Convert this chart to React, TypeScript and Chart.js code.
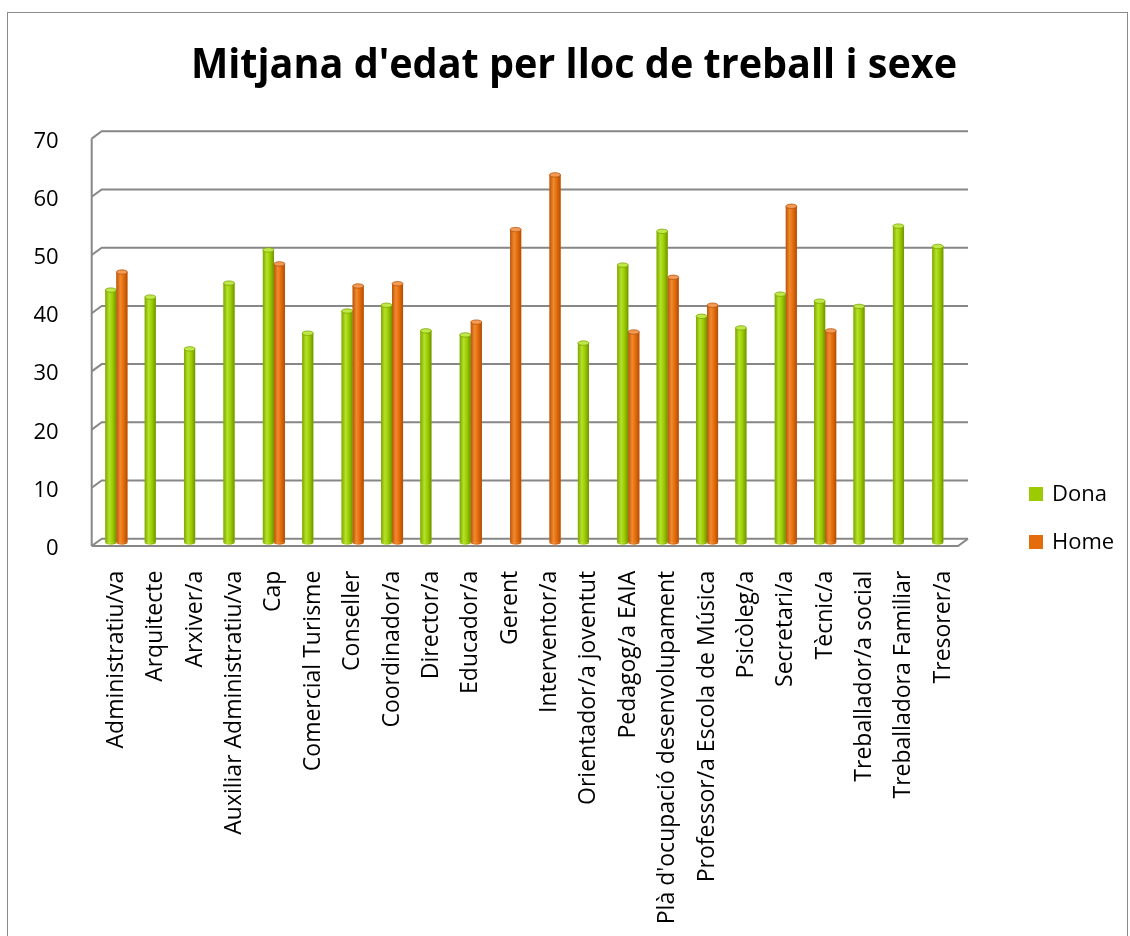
import React, { useEffect, useRef } from 'react';
import { Chart, registerables } from 'chart.js';

Chart.register(...registerables);

const TITLE = "Mitjana d'edat per lloc de treball i sexe";

const categories = [
  'Administratiu/va',
  'Arquitecte',
  'Arxiver/a',
  'Auxiliar Administratiu/va',
  'Cap',
  'Comercial Turisme',
  'Conseller',
  'Coordinador/a',
  'Director/a',
  'Educador/a',
  'Gerent',
  'Interventor/a',
  'Orientador/a joventut',
  'Pedagog/a EAIA',
  "Plà d'ocupació desenvolupament",
  'Professor/a Escola de Música',
  'Psicòleg/a',
  'Secretari/a',
  'Tècnic/a',
  'Treballador/a social',
  'Treballadora Familiar',
  'Tresorer/a',
];

const dona = [43.4, 42.2, 33.3, 44.6, 50.3, 36.0, 39.8, 40.8, 36.4, 35.7, null, null, 34.3, 47.7, 53.5, 38.9, 36.9, 42.7, 41.5, 40.6, 54.4, 50.9];
const home = [46.5, null, null, null, 47.9, null, 44.1, 44.5, null, 37.9, 53.8, 63.2, null, 36.2, 45.6, 40.8, null, 57.8, 36.4, null, null, null];

const seriesNames = ['Dona', 'Home'];
const seriesColors = ['#9BCB00', '#E46C0A'];
const yMin = 0;
const yMax = 70;
const yStep = 10;

// cylinder shading palettes (left edge, highlight, body, right edge, top, top outline)
const shading = [
  ['#7DA600', '#B4E22A', '#9CCB02', '#6F9300', '#BFE84A', '#7EA400'],
  ['#B9560A', '#F08A30', '#E46C0A', '#B04E06', '#F39A55', '#B9560A'],
];

const GRID = '#878787';
const DX = 5;
const DY_BACK = 4;
const DY_FRONT = 3.3;

const wallPlugin = {
  id: 'walls',
  beforeDatasetsDraw(chart: any) {
    const { ctx, chartArea } = chart;
    const ys = chart.scales.y;
    const { left, right, bottom, top } = chartArea;
    ctx.save();
    ctx.strokeStyle = GRID;
    ctx.lineWidth = 2;
    ctx.lineCap = 'butt';
    ys.ticks.forEach((t: any) => {
      const py = ys.getPixelForValue(t.value);
      ctx.beginPath();
      ctx.moveTo(left - DX, py + DY_FRONT);
      ctx.lineTo(left + DX, py - DY_BACK);
      ctx.lineTo(right + DX, py - DY_BACK);
      ctx.stroke();
    });
    // front vertical axis
    ctx.beginPath();
    ctx.moveTo(left - DX, top + DY_FRONT);
    ctx.lineTo(left - DX, bottom + DY_FRONT);
    ctx.stroke();
    // floor front edge
    ctx.beginPath();
    ctx.moveTo(left - DX, bottom + DY_FRONT);
    ctx.lineTo(right - DX, bottom + DY_FRONT);
    ctx.lineTo(right + DX, bottom - DY_BACK);
    ctx.stroke();
    ctx.restore();
  },
};

const cylinderPlugin = {
  id: 'cylinders',
  afterDatasetsDraw(chart: any) {
    const ctx = chart.ctx;
    chart.data.datasets.forEach((ds: any, di: number) => {
      const meta = chart.getDatasetMeta(di);
      if (meta.hidden) return;
      const pal = shading[di];
      meta.data.forEach((bar: any, i: number) => {
        const v = ds.data[i];
        if (v == null) return;
        const { x, y, base, width } = bar.getProps(['x', 'y', 'base', 'width'], true);
        const l = x - width / 2;
        const r = x + width / 2;
        const g = ctx.createLinearGradient(l, 0, r, 0);
        g.addColorStop(0, pal[0]);
        g.addColorStop(0.35, pal[1]);
        g.addColorStop(0.65, pal[2]);
        g.addColorStop(1, pal[3]);
        ctx.save();
        ctx.fillStyle = g;
        ctx.fillRect(l, y, width, base - y);
        ctx.beginPath();
        ctx.ellipse(x, base, width / 2, 2, 0, 0, Math.PI);
        ctx.fill();
        ctx.beginPath();
        ctx.ellipse(x, y, width / 2, 2.2, 0, 0, Math.PI * 2);
        ctx.fillStyle = pal[4];
        ctx.fill();
        ctx.lineWidth = 0.8;
        ctx.strokeStyle = pal[5];
        ctx.stroke();
        ctx.restore();
      });
    });
  },
};

const decorPlugin = {
  id: 'decor',
  afterDraw(chart: any) {
    const ctx = chart.ctx;
    ctx.save();
    // title
    ctx.font = "bold 41px 'Open Sans'";
    ctx.fillStyle = '#000';
    ctx.textBaseline = 'alphabetic';
    ctx.textAlign = 'center';
    const w = ctx.measureText(TITLE).width;
    const target = 766;
    const sx = w > target ? target / w : 1;
    ctx.translate(574, 78);
    ctx.scale(sx, 1);
    ctx.fillText(TITLE, 0, 0);
    ctx.restore();

    // legend
    ctx.save();
    ctx.font = "22px 'Open Sans'";
    ctx.textBaseline = 'middle';
    ctx.textAlign = 'left';
    chart.data.datasets.forEach((ds: any, i: number) => {
      const cy = 494 + i * 48;
      ctx.fillStyle = ds.backgroundColor;
      ctx.fillRect(1029, cy - 7, 14, 14);
      ctx.fillStyle = '#000';
      ctx.fillText(ds.label, 1052, cy + 1);
    });
    ctx.restore();
  },
};

export default function App() {
  const ref = useRef<HTMLCanvasElement | null>(null);
  useEffect(() => {
    if (!ref.current) return;
    const chart = new Chart(ref.current, {
      type: 'bar',
      data: {
        labels: categories,
        datasets: [
          { label: seriesNames[0], data: dona, backgroundColor: seriesColors[0], categoryPercentage: 0.56, barPercentage: 1 },
          { label: seriesNames[1], data: home, backgroundColor: seriesColors[1], categoryPercentage: 0.56, barPercentage: 1 },
        ],
      },
      options: {
        responsive: false,
        animation: false,
        events: [],
        layout: { padding: { left: 0, right: 167, top: 135.3, bottom: 0 } },
        plugins: {
          legend: { display: false },
          title: { display: false },
          tooltip: { enabled: false },
        },
        scales: {
          x: {
            grid: { display: false },
            border: { display: false },
            ticks: {
              autoSkip: false,
              minRotation: 90,
              maxRotation: 90,
              padding: 20,
              color: '#000',
              font: { family: "'Open Sans'", size: 23 },
            },
            afterFit: (s: any) => {
              s.height = 393.3;
            },
          },
          y: {
            min: yMin,
            max: yMax,
            grid: { display: false },
            border: { display: false },
            ticks: {
              stepSize: yStep,
              padding: 30,
              labelOffset: 6,
              color: '#000',
              font: { family: "'Open Sans'", size: 22 },
            },
            afterFit: (s: any) => {
              s.width = 96.7;
            },
          },
        },
      },
      plugins: [wallPlugin, cylinderPlugin, decorPlugin],
    });
    return () => chart.destroy();
  }, []);

  return (
    <div style={{ position: 'absolute', left: 0, top: 0, width: 1130, height: 936, overflow: 'hidden', background: '#fff' }}>
      <div
        style={{
          position: 'absolute',
          left: 7,
          top: 12,
          width: 1121,
          height: 930,
          borderTop: '1px solid #8a8a8a',
          borderLeft: '1px solid #8a8a8a',
          borderRight: '1px solid #8a8a8a',
          boxSizing: 'border-box',
        }}
      />
      <canvas
        ref={ref}
        width={1130}
        height={936}
        style={{ position: 'absolute', left: 0, top: 0, width: 1130, height: 936 }}
      />
    </div>
  );
}
